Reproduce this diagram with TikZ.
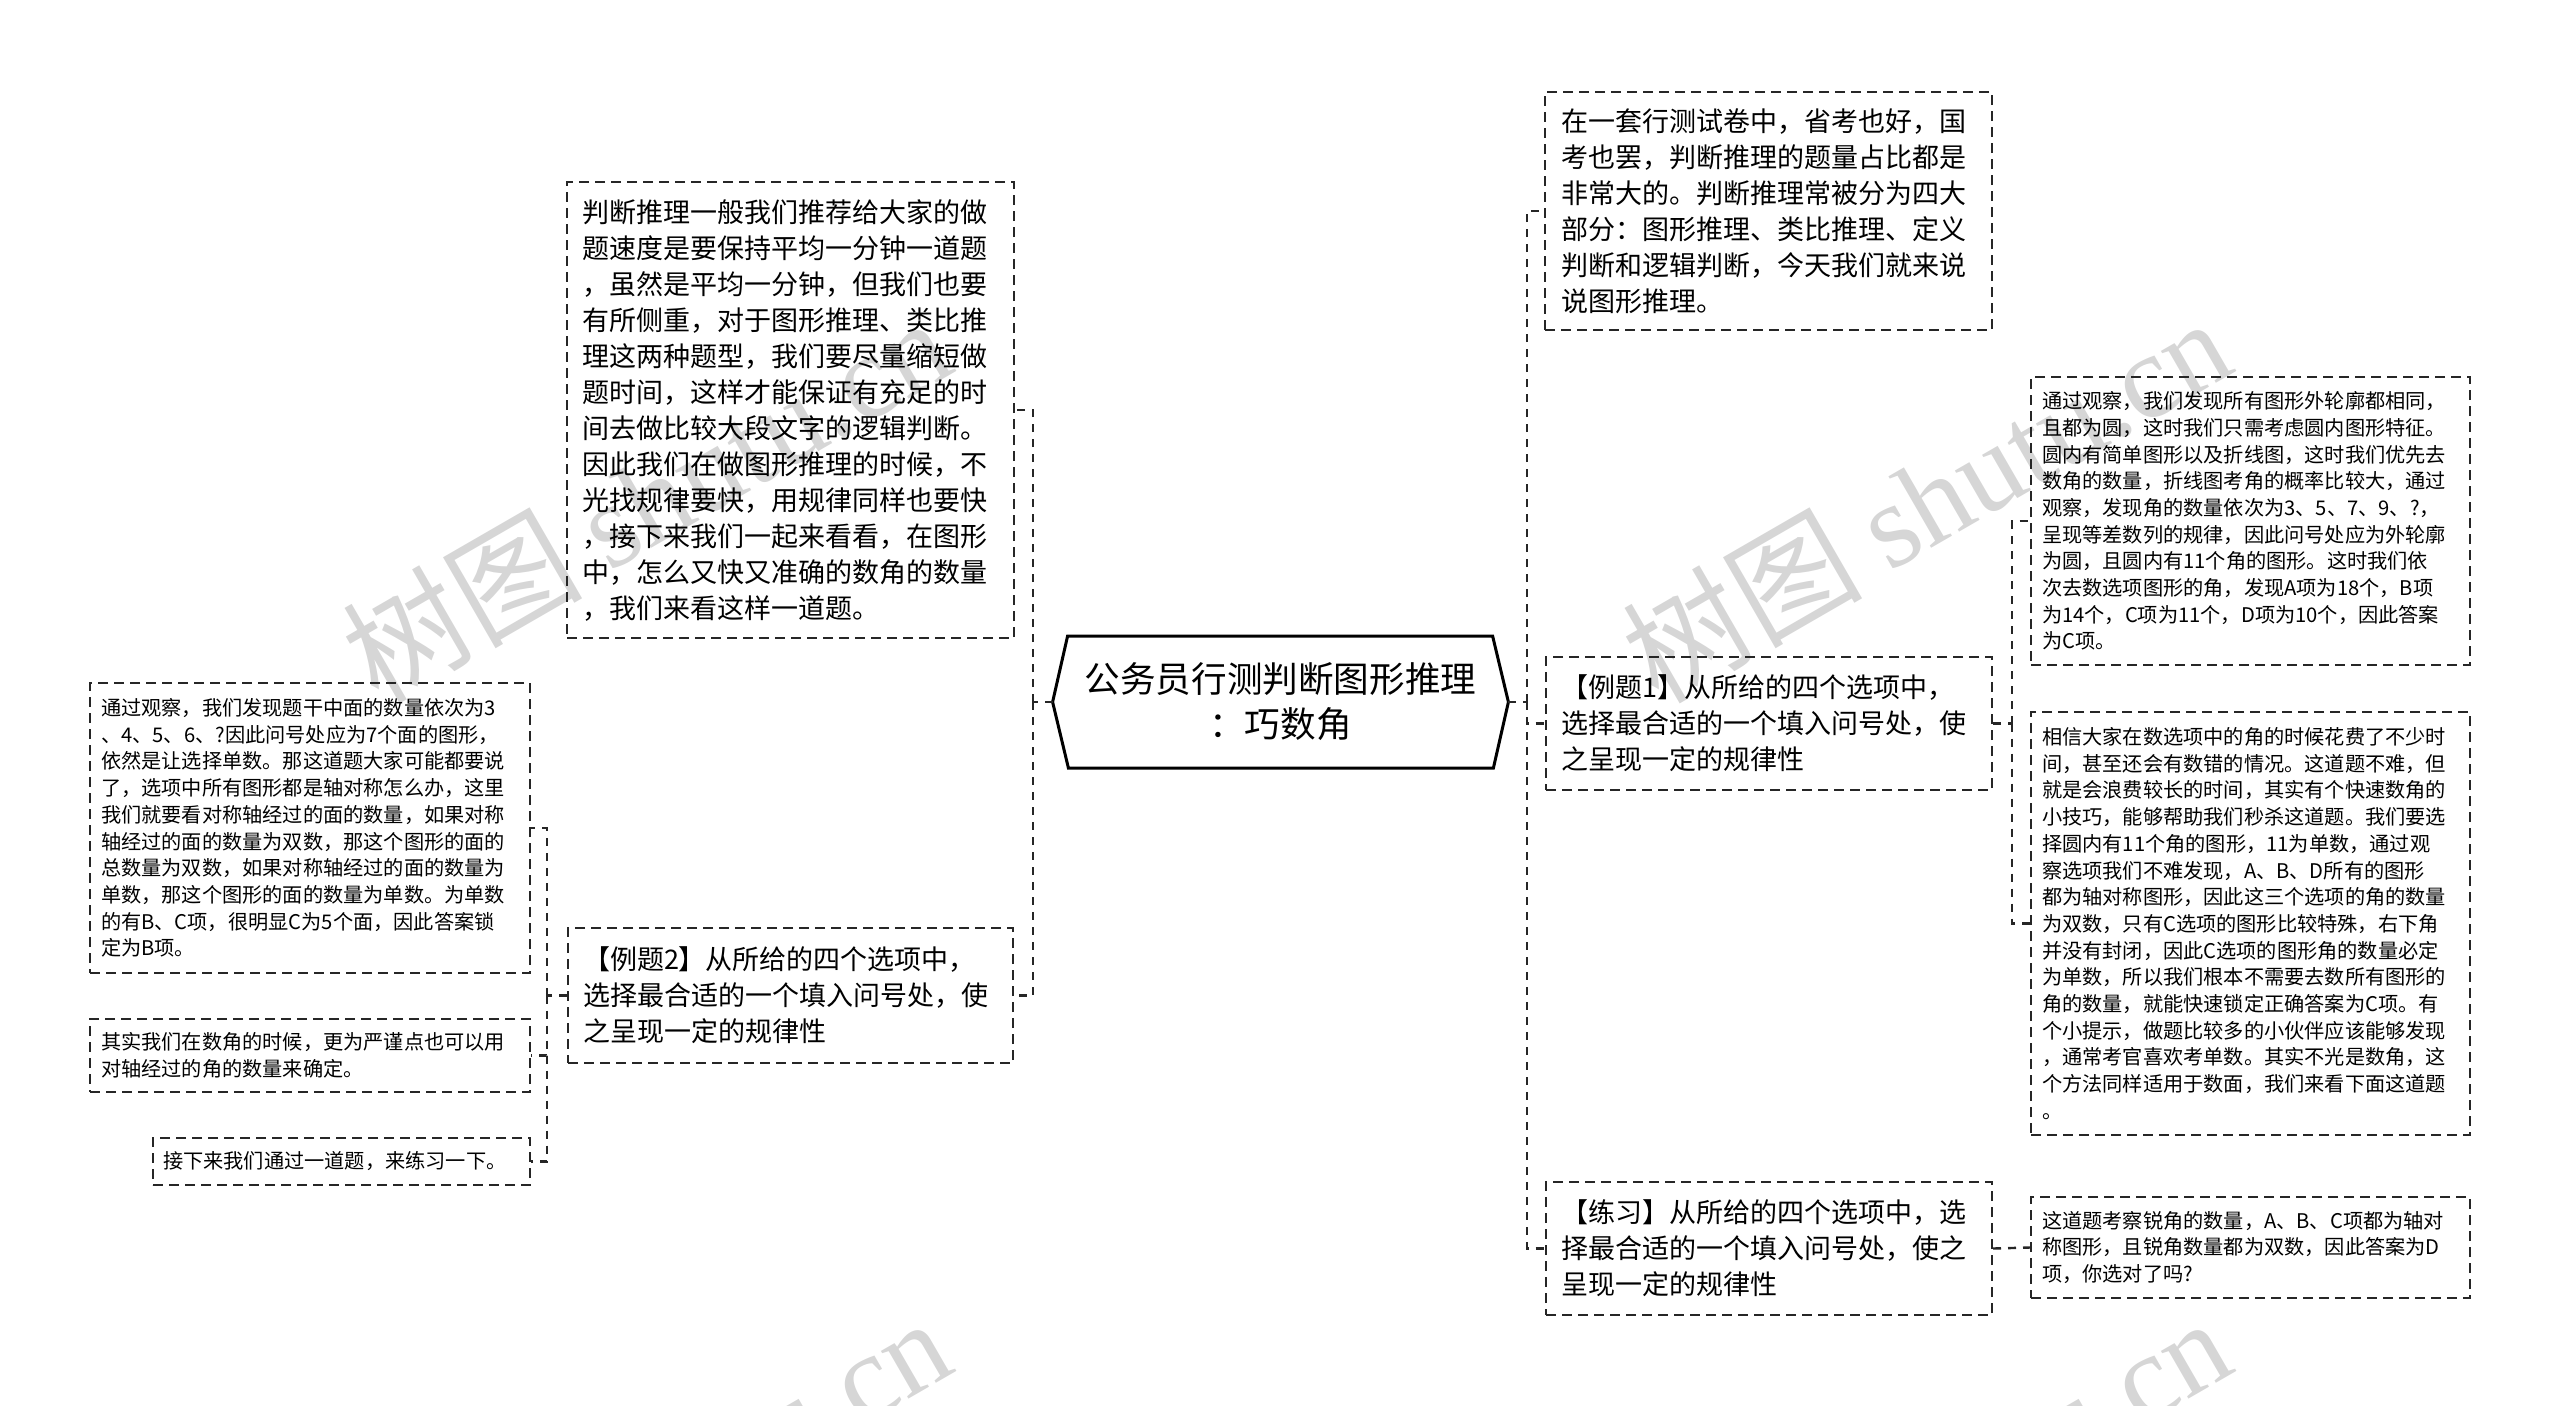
\documentclass[tikz,border=0pt]{standalone}
\usepackage{fontspec}
\setmainfont{Noto Sans CJK SC}
\newfontfamily\wmcjk{Noto Sans CJK SC}
\newfontfamily\wmlat{Liberation Serif}
\usetikzlibrary{calc}
\begin{document}
\begin{tikzpicture}[x=0.5pt,y=-0.5pt,
  box/.style={draw=black!85, dash pattern=on 5pt off 3pt, line width=1pt, inner ysep=0pt, align=left},
  bigtxt/.style={font=\fontsize{13.5pt}{18pt}\selectfont},
  smalltxt/.style={font=\fontsize{10.1pt}{13.35pt}\selectfont},
  link/.style={draw=black!85, dash pattern=on 4pt off 3.5pt, line width=1.2pt},
  wm/.style={text=black!16, anchor=base west, rotate=30, inner sep=0pt}
]
\useasboundingbox (0,0) rectangle (2560,1405);
% watermarks
\begin{scope}
\clip (0,0) rectangle (2560,1405);
\foreach \px/\py in {378/706,1658/706,378/1706,1658/1706}
  \node[wm] (wm-\px-\py) at (\px,\py) {\fontsize{60pt}{60pt}\selectfont\wmcjk 树图 \wmlat shutu.cn};
\end{scope}

% root
\node[font=\fontsize{17.8pt}{22.5pt}\selectfont, align=center, minimum width=227.5pt, minimum height=66pt, inner sep=0pt] (root) at (1280.5,702) {公务员行测判断图形推理\\：巧数角};
\draw[line width=1.5pt, line join=miter] (root.west) -- ++(15,-66) -- ++(425,0) -- (root.east) -- ++(-15,66) -- ++(-425,0) -- cycle;

% left side
\node[box,bigtxt,minimum width=223.5pt,minimum height=228pt,text width=208.5pt,inner xsep=7.5pt] (lt) at (790.5,410) {判断推理一般我们推荐给大家的做\\题速度是要保持平均一分钟一道题\\，虽然是平均一分钟，但我们也要\\有所侧重，对于图形推理、类比推\\理这两种题型，我们要尽量缩短做\\题时间，这样才能保证有充足的时\\间去做比较大段文字的逻辑判断。\\因此我们在做图形推理的时候，不\\光找规律要快，用规律同样也要快\\，接下来我们一起来看看，在图形\\中，怎么又快又准确的数角的数量\\，我们来看这样一道题。};
\node[box,bigtxt,minimum width=222.5pt,minimum height=67.5pt,text width=207.5pt,inner xsep=7.5pt] (ex2) at (790.5,995.5) {【例题2】从所给的四个选项中，\\选择最合适的一个填入问号处，使\\之呈现一定的规律性};
\node[box,smalltxt,minimum width=220pt,minimum height=145pt,text width=209pt,inner xsep=5.5pt] (l1) at (310,828) {通过观察，我们发现题干中面的数量依次为3\\、4、5、6、?因此问号处应为7个面的图形，\\依然是让选择单数。那这道题大家可能都要说\\了，选项中所有图形都是轴对称怎么办，这里\\我们就要看对称轴经过的面的数量，如果对称\\轴经过的面的数量为双数，那这个图形的面的\\总数量为双数，如果对称轴经过的面的数量为\\单数，那这个图形的面的数量为单数。为单数\\的有B、C项，很明显C为5个面，因此答案锁\\定为B项。};
\node[box,smalltxt,minimum width=220pt,minimum height=36.5pt,text width=209pt,inner xsep=5.5pt] (l2) at (310,1055.5) {其实我们在数角的时候，更为严谨点也可以用\\对轴经过的角的数量来确定。};
\node[box,smalltxt,minimum width=188.5pt,minimum height=23.5pt,text width=178.5pt,inner xsep=5pt] (l3) at (341.5,1161.5) {接下来我们通过一道题，来练习一下。};

% right side
\node[box,bigtxt,minimum width=223.5pt,minimum height=119pt,text width=207.5pt,inner xsep=8pt] (r1) at (1768.5,211) {在一套行测试卷中，省考也好，国\\考也罢，判断推理的题量占比都是\\非常大的。判断推理常被分为四大\\部分：图形推理、类比推理、定义\\判断和逻辑判断，今天我们就来说\\说图形推理。};
\node[box,bigtxt,minimum width=223pt,minimum height=66.5pt,text width=208pt,inner xsep=7.5pt] (ex1) at (1769,723.5) {【例题1】从所给的四个选项中，\\选择最合适的一个填入问号处，使\\之呈现一定的规律性};
\node[box,bigtxt,minimum width=223pt,minimum height=66.5pt,text width=208pt,inner xsep=7.5pt] (pr) at (1769,1248.5) {【练习】从所给的四个选项中，选\\择最合适的一个填入问号处，使之\\呈现一定的规律性};
\node[box,smalltxt,minimum width=219.5pt,minimum height=144pt,text width=208.5pt,inner xsep=5.5pt] (e1a) at (2250.5,521) {通过观察，我们发现所有图形外轮廓都相同，\\且都为圆，这时我们只需考虑圆内图形特征。\\圆内有简单图形以及折线图，这时我们优先去\\数角的数量，折线图考角的概率比较大，通过\\观察，发现角的数量依次为3、5、7、9、?，\\呈现等差数列的规律，因此问号处应为外轮廓\\为圆，且圆内有11个角的图形。这时我们依\\次去数选项图形的角，发现A项为18个，B项\\为14个，C项为11个，D项为10个，因此答案\\为C项。};
\node[box,smalltxt,minimum width=219.5pt,minimum height=211.5pt,text width=208.5pt,inner xsep=5.5pt] (e1b) at (2250.5,923.5) {相信大家在数选项中的角的时候花费了不少时\\间，甚至还会有数错的情况。这道题不难，但\\就是会浪费较长的时间，其实有个快速数角的\\小技巧，能够帮助我们秒杀这道题。我们要选\\择圆内有11个角的图形，11为单数，通过观\\察选项我们不难发现，A、B、D所有的图形\\都为轴对称图形，因此这三个选项的角的数量\\为双数，只有C选项的图形比较特殊，右下角\\并没有封闭，因此C选项的图形角的数量必定\\为单数，所以我们根本不需要去数所有图形的\\角的数量，就能快速锁定正确答案为C项。有\\个小提示，做题比较多的小伙伴应该能够发现\\，通常考官喜欢考单数。其实不光是数角，这\\个方法同样适用于数面，我们来看下面这道题\\。};
\node[box,smalltxt,minimum width=219.5pt,minimum height=50.5pt,text width=208.5pt,inner xsep=5.5pt] (pa) at (2250.5,1247.5) {这道题考察锐角的数量，A、B、C项都为轴对\\称图形，且锐角数量都为双数，因此答案为D\\项，你选对了吗?};

% junctions
\coordinate (lj) at (1033,702);
\coordinate (lj2) at (547,995.5);
\coordinate (rj) at (1527,702);
\coordinate (rj2) at (2012,723.5);

% connectors
\path[link] (root.west) -- (lj) (lj) |- (lt.east) (lj) |- (ex2.east);
\path[link] (ex2.west) -- (lj2) (lj2) |- (l1.east) (lj2) |- (l2.east) (lj2) |- (l3.east);
\path[link] (root.east) -- (rj) (rj) |- (r1.west) (rj) |- (ex1.west) (rj) |- (pr.west);
\path[link] (ex1.east) -- (rj2) (rj2) |- (e1a.west) (rj2) |- (e1b.west);
\path[link] (pr.east) -- (pa.west);
\end{tikzpicture}
\end{document}
